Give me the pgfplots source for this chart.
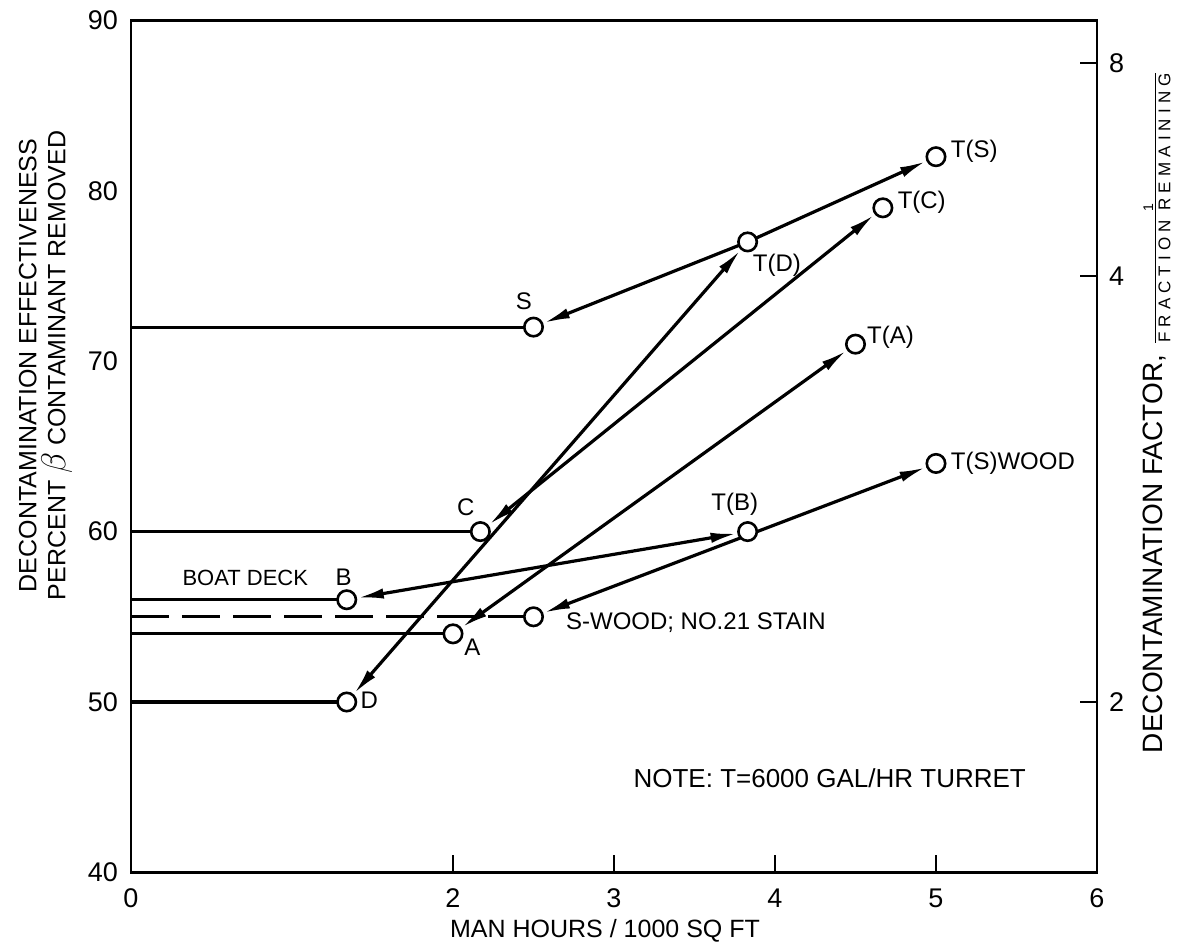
\documentclass[border=0pt]{standalone}
\usepackage{pgfplots}
\pgfplotsset{compat=1.18}
\usepackage{fontspec}
\setmainfont{Liberation Sans}
\newfontfamily\spaced[LetterSpace=30]{Liberation Sans}
\usetikzlibrary{arrows.meta}
\begin{document}
\begin{tikzpicture}
\pgfplotsset{
  lin/.style={line width=1.6pt, black},
  arr/.style={line width=1.6pt, black,
    {Latex[length=13pt,width=5.2pt]}-{Latex[length=13pt,width=5.2pt]},
    shorten <=5.6pt, shorten >=5.6pt},
}
\tikzset{lbl/.style={font=\fontsize{12}{14}\selectfont, inner sep=0pt}}
\begin{axis}[
  name=main,
  width=483pt, height=426pt, scale only axis,
  xmin=0, xmax=6, ymin=40, ymax=90,
  xtick={0,2,3,4,5,6},
  ytick={40,50,60,70,80,90},
  xtick pos=bottom, ytick pos=left,
  tick align=inside, major tick length=8.5pt,
  ytick style={draw=none},
  xtick style={line width=1.2pt, black},
  axis line style={line width=1.3pt},
  /pgf/number format/assume math mode=true,
  ticklabel style={font=\fontsize{13.5}{15}\selectfont},
  yticklabel style={xshift=-3pt},
  xticklabel style={yshift=-4.5pt},
  clip=false,
]
% horizontal lines from the axis
\addplot[lin] coordinates {(0,72) (2.5,72)};
\addplot[lin] coordinates {(0,60) (2.17,60)};
\addplot[lin] coordinates {(0,56) (1.34,56)};
\addplot[lin, dash pattern=on 19pt off 6.5pt] coordinates {(0,55) (2.5,55)};
\addplot[lin] coordinates {(0,54) (2.0,54)};
\addplot[lin] coordinates {(0,50) (1.34,50)};
% double arrows
\addplot[arr] coordinates {(2.5,72) (3.83,77) (5,82)};
\addplot[arr] coordinates {(1.34,50) (3.83,77)};
\addplot[arr] coordinates {(2.17,60) (4.67,79)};
\addplot[arr] coordinates {(2.0,54) (4.5,71)};
\addplot[arr] coordinates {(1.34,56) (3.83,60)};
\addplot[arr] coordinates {(2.5,55) (5,64)};
% points
\addplot[only marks, mark=*, mark size=4.6pt,
  mark options={fill=white, draw=black, line width=1.3pt}] coordinates {
  (2.5,72) (3.83,77) (5,82) (1.34,50) (2.17,60) (4.67,79)
  (2.0,54) (4.5,71) (1.34,56) (3.83,60) (2.5,55) (5,64)};
% labels
\node[lbl] at (axis cs:2.44,73.5) {S};
\node[lbl, anchor=west] at (axis cs:5.09,82.3) {T(S)};
\node[lbl, anchor=west] at (axis cs:4.76,79.3) {T(C)};
\node[lbl, anchor=west] at (axis cs:3.86,75.6) {T(D)};
\node[lbl, anchor=west] at (axis cs:4.57,71.4) {T(A)};
\node[lbl] at (axis cs:3.75,61.6) {T(B)};
\node[lbl, anchor=west] at (axis cs:5.09,64.0) {T(S)WOOD};
\node[lbl] at (axis cs:2.08,61.45) {C};
\node[lbl] at (axis cs:1.32,57.3) {B};
\node[lbl, font=\fontsize{11}{13}\selectfont] at (axis cs:0.71,57.3) {BOAT DECK};
\node[lbl, anchor=west] at (axis cs:2.70,54.65) {S-WOOD; NO.21 STAIN};
\node[lbl] at (axis cs:2.12,53.2) {A};
\node[lbl] at (axis cs:1.48,50.1) {D};
\node[font=\fontsize{13}{15}\selectfont, inner sep=0pt] at (axis cs:4.34,45.5) {NOTE: T=6000 GAL/HR TURRET};
% axis labels
\node[font=\fontsize{12.5}{14}\selectfont, inner sep=0pt] at ([xshift=-4.5pt,yshift=-29pt]rel axis cs:0.5,0) {MAN HOURS / 1000 SQ FT};
\node[rotate=90, align=center, font=\fontsize{12.5}{14.5}\selectfont, inner sep=0pt]
  at ([xshift=-42.75pt]rel axis cs:0,0.595)
  {DECONTAMINATION EFFECTIVENESS\\PERCENT {\fontsize{17}{17}\selectfont$\beta$} CONTAMINANT REMOVED};
\node[rotate=90, anchor=south, font=\fontsize{14}{15}\selectfont, inner sep=0pt]
  at ([xshift=39pt]rel axis cs:1,0.539)
  {DECONTAMINATION FACTOR,\hspace{6pt}{\fontsize{7}{8}\selectfont\renewcommand{\arraystretch}{0.9}\begin{tabular}[c]{@{}c@{}}1\\[-1pt]\hline\rule{0pt}{7pt}{\fontsize{8.5}{9}\selectfont\spaced FRACTION REMAINING}\end{tabular}}};
\end{axis}
\begin{axis}[
  width=483pt, height=426pt, scale only axis,
  xmin=0, xmax=6, ymin=40, ymax=90,
  axis x line=none, axis y line*=right,
  ytick={50,75,87.5}, yticklabels={2,4,8},
  tick align=inside, major tick length=8.5pt,
  ytick style={line width=1.2pt, black},
  axis line style={line width=1.3pt},
  ticklabel style={font=\fontsize{13.5}{15}\selectfont},
  yticklabel style={xshift=2.5pt},
]
\end{axis}
\pgfresetboundingbox
\path[use as bounding box] ([shift={(-65.5pt,-37pt)}]main.south west) rectangle ([shift={(40.5pt,10.2pt)}]main.north east);
\end{tikzpicture}
\end{document}
